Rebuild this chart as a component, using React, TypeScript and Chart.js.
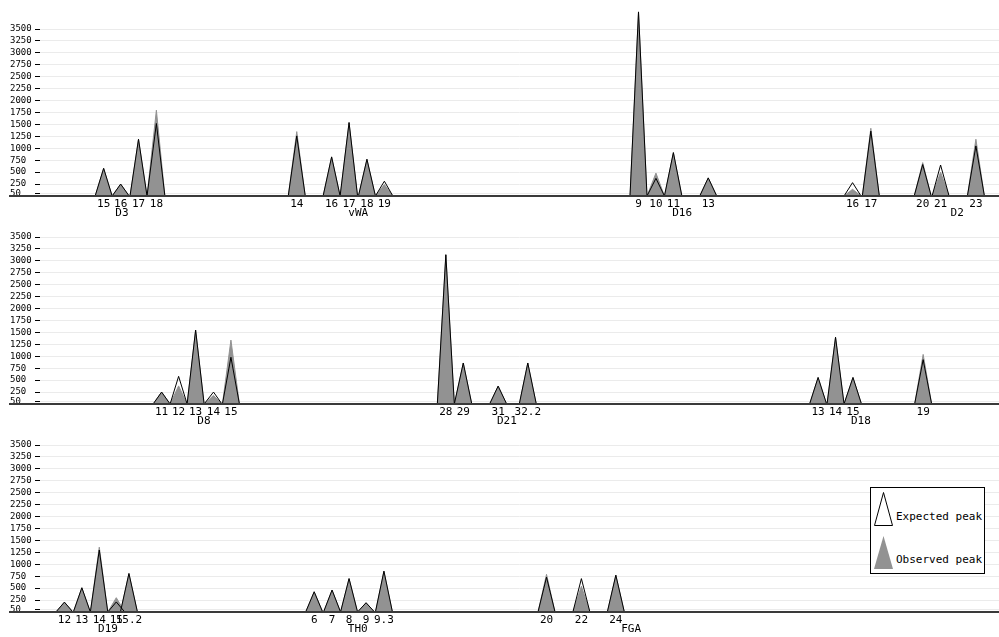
import React, { useEffect, useRef } from "react";
import { Chart, registerables } from "chart.js";

Chart.register(...registerables);

// ---- Panel 1 ----
const d3Alleles = ["15", "16", "17", "18"];
const d3Sizes = [114.6, 118.5, 122.6, 126.7];
const d3Expected = [580, 250, 1190, 1520];
const d3Observed = [580, 250, 1190, 1800];

const vwaAlleles = ["14", "16", "17", "18", "19"];
const vwaSizes = [158.9, 166.9, 170.9, 175.0, 179.0];
const vwaExpected = [1260, 820, 1540, 770, 310];
const vwaObserved = [1350, 820, 1540, 770, 240];

const d16Alleles = ["9", "10", "11", "13"];
const d16Sizes = [237.3, 241.3, 245.3, 253.3];
const d16Expected = [3860, 370, 910, 380];
const d16Observed = [3860, 480, 910, 380];

const d2Alleles = ["16", "17", "20", "21", "23"];
const d2Sizes = [286.4, 290.6, 302.5, 306.6, 314.7];
const d2Expected = [280, 1360, 660, 650, 1050];
const d2Observed = [140, 1420, 700, 500, 1190];

// ---- Panel 2 ----
const d8Alleles = ["11", "12", "13", "14", "15"];
const d8Sizes = [127.9, 131.8, 135.7, 139.8, 143.8];
const d8Expected = [250, 580, 1550, 250, 980];
const d8Observed = [250, 380, 1550, 180, 1340];

const d21Alleles = ["28", "29", "31", "32.2"];
const d21Sizes = [193.1, 197.1, 205.1, 211.9];
const d21Expected = [3130, 860, 375, 860];
const d21Observed = [3130, 860, 375, 860];

const d18Alleles = ["13", "14", "15", "19"];
const d18Sizes = [278.5, 282.5, 286.5, 302.6];
const d18Expected = [556, 1400, 556, 930];
const d18Observed = [556, 1400, 556, 1040];

// ---- Panel 3 ----
const d19Alleles = ["12", "13", "14", "15", "15.2"];
const d19Sizes = [105.6, 109.6, 113.6, 117.5, 120.4];
const d19Expected = [207, 508, 1300, 210, 807];
const d19Observed = [207, 508, 1360, 300, 807];

const th0Alleles = ["6", "7", "8", "9", "9.3"];
const th0Sizes = [162.9, 167.0, 170.9, 174.8, 178.9];
const th0Expected = [424, 460, 700, 194, 856];
const th0Observed = [424, 460, 700, 194, 856];

const fgaAlleles = ["20", "22", "24"];
const fgaSizes = [216.2, 224.2, 232.1];
const fgaExpected = [730, 700, 772];
const fgaObserved = [790, 540, 772];

// ---- Locus names (centre of the locus, in the same size units) ----
const locusNames1 = ["D3", "vWA", "D16", "D2"];
const locusCenters1 = [118.8, 173.0, 247.3, 310.4];
const locusNames2 = ["D8", "D21", "D18"];
const locusCenters2 = [137.6, 207.1, 288.3];
const locusNames3 = ["D19", "TH0", "FGA"];
const locusCenters3 = [115.6, 172.9, 235.6];

// ---- Axis ticks ----
const yTicks = [50, 250, 500, 750, 1000, 1250, 1500, 1750, 2000, 2250, 2500, 2750, 3000, 3250, 3500];

const X_MIN = 100;
const X_MAX = 320;
const Y_MAX = 3900;
const PEAK_HALF_WIDTH = 1.95;

const MONO = "'DejaVu Sans Mono', monospace";
const GRAY = "#929292";

type Locus = { alleles: string[]; sizes: number[]; expected: number[]; observed: number[] };

const panel1: Locus[] = [
  { alleles: d3Alleles, sizes: d3Sizes, expected: d3Expected, observed: d3Observed },
  { alleles: vwaAlleles, sizes: vwaSizes, expected: vwaExpected, observed: vwaObserved },
  { alleles: d16Alleles, sizes: d16Sizes, expected: d16Expected, observed: d16Observed },
  { alleles: d2Alleles, sizes: d2Sizes, expected: d2Expected, observed: d2Observed },
];
const panel2: Locus[] = [
  { alleles: d8Alleles, sizes: d8Sizes, expected: d8Expected, observed: d8Observed },
  { alleles: d21Alleles, sizes: d21Sizes, expected: d21Expected, observed: d21Observed },
  { alleles: d18Alleles, sizes: d18Sizes, expected: d18Expected, observed: d18Observed },
];
const panel3: Locus[] = [
  { alleles: d19Alleles, sizes: d19Sizes, expected: d19Expected, observed: d19Observed },
  { alleles: th0Alleles, sizes: th0Sizes, expected: th0Expected, observed: th0Observed },
  { alleles: fgaAlleles, sizes: fgaSizes, expected: fgaExpected, observed: fgaObserved },
];

function trianglePoints(sizes: number[], heights: number[]) {
  const pts: { x: number; y: number }[] = [];
  sizes.forEach((s, i) => {
    pts.push({ x: s - PEAK_HALF_WIDTH, y: 0 }, { x: s, y: heights[i] }, { x: s + PEAK_HALF_WIDTH, y: 0 });
  });
  return pts;
}

const baselinePlugin = {
  id: "baseline",
  afterDatasetsDraw(chart: any) {
    const { ctx, chartArea, scales } = chart;
    const y = Math.round(scales.y.getPixelForValue(0));
    ctx.save();
    ctx.strokeStyle = "#3a3a3a";
    ctx.lineWidth = 2;
    ctx.beginPath();
    ctx.moveTo(9, y);
    ctx.lineTo(chartArea.right, y);
    ctx.stroke();
    ctx.restore();
  },
};

function Panel({ top, loci, names, centers }: { top: number; loci: Locus[]; names: string[]; centers: number[] }) {
  const ref = useRef<HTMLCanvasElement | null>(null);
  useEffect(() => {
    const sizes = loci.flatMap((l) => l.sizes);
    const labels = loci.flatMap((l) => l.alleles);
    const expected = loci.flatMap((l) => trianglePoints(l.sizes, l.expected));
    const observed = loci.flatMap((l) => trianglePoints(l.sizes, l.observed));
    const chart = new Chart(ref.current as HTMLCanvasElement, {
      type: "line",
      data: {
        datasets: [
          {
            label: "Expected peak",
            data: expected,
            borderColor: "#000",
            borderWidth: 1,
            fill: false,
            pointRadius: 0,
            tension: 0,
            order: 0,
          },
          {
            label: "Observed peak",
            data: observed,
            borderColor: GRAY,
            backgroundColor: GRAY,
            borderWidth: 1,
            fill: "origin",
            pointRadius: 0,
            tension: 0,
            order: 1,
          },
        ],
      },
      options: {
        responsive: false,
        animation: false,
        events: [],
        layout: { padding: { left: 10, top: 10, right: 0, bottom: 0 } },
        plugins: { legend: { display: false }, tooltip: { enabled: false } },
        scales: {
          x: {
            type: "linear",
            position: "bottom",
            min: X_MIN,
            max: X_MAX,
            weight: 0,
            afterBuildTicks: (s: any) => {
              s.ticks = sizes.map((v) => ({ value: v }));
            },
            afterFit: (s: any) => {
              s.height = 12;
            },
            ticks: {
              autoSkip: false,
              maxRotation: 0,
              minRotation: 0,
              padding: 2.5,
              color: "#000",
              font: { family: MONO, size: 11, lineHeight: 1 },
              callback: (_v: any, i: number) => labels[i],
            },
            grid: { display: false, drawTicks: false },
            border: { display: false },
          },
          x2: {
            type: "linear",
            position: "bottom",
            min: X_MIN,
            max: X_MAX,
            weight: 1,
            afterBuildTicks: (s: any) => {
              s.ticks = centers.map((v) => ({ value: v }));
            },
            afterFit: (s: any) => {
              s.height = 13;
            },
            ticks: {
              autoSkip: false,
              maxRotation: 0,
              minRotation: 0,
              padding: 0,
              color: "#000",
              font: { family: MONO, size: 11, lineHeight: 1 },
              callback: (_v: any, i: number) => names[i],
            },
            grid: { display: false, drawTicks: false },
            border: { display: false },
          },
          y: {
            type: "linear",
            min: 0,
            max: Y_MAX,
            afterBuildTicks: (s: any) => {
              s.ticks = yTicks.map((v) => ({ value: v }));
            },
            afterFit: (s: any) => {
              s.width = 30;
            },
            ticks: {
              autoSkip: false,
              crossAlign: "far",
              color: "#000",
              font: { family: MONO, size: 9 },
              callback: (v: any) => String(v),
            },
            grid: { color: "#ebebeb", tickColor: "#000", tickLength: 5, drawTicks: true, lineWidth: 1 },
            border: { display: false },
          },
        },
      } as any,
      plugins: [baselinePlugin],
    });
    return () => chart.destroy();
  }, []);
  return (
    <canvas
      ref={ref}
      width={999}
      height={221}
      style={{ position: "absolute", left: 0, top, width: 999, height: 221 }}
    />
  );
}

function Legend() {
  return (
    <div
      style={{
        position: "absolute",
        left: 870,
        top: 487,
        width: 115,
        height: 87,
        boxSizing: "border-box",
        border: "1px solid #000",
        background: "#fff",
        fontFamily: MONO,
        fontSize: 11,
        lineHeight: "11px",
        color: "#000",
      }}
    >
      <svg width={113} height={85} style={{ position: "absolute", left: 0, top: 0 }}>
        <polygon points="3.5,37.5 12.5,4.5 21.5,37.5" fill="#fff" stroke="#000" strokeWidth={1} />
        <polygon points="3,81 12.5,48 22,81" fill={GRAY} />
      </svg>
      <span style={{ position: "absolute", left: 25, top: 23, whiteSpace: "nowrap" }}>Expected peak</span>
      <span style={{ position: "absolute", left: 25, top: 66, whiteSpace: "nowrap" }}>Observed peak</span>
    </div>
  );
}

export default function App() {
  return (
    <div style={{ position: "absolute", left: 0, top: 0, width: 999, height: 637, background: "#fff", overflow: "hidden" }}>
      <Panel top={0} loci={panel1} names={locusNames1} centers={locusCenters1} />
      <Panel top={208} loci={panel2} names={locusNames2} centers={locusCenters2} />
      <Panel top={416} loci={panel3} names={locusNames3} centers={locusCenters3} />
      <Legend />
    </div>
  );
}
